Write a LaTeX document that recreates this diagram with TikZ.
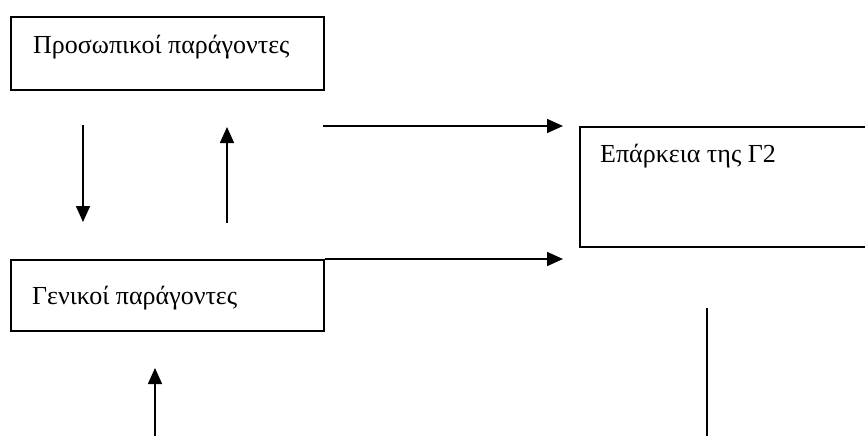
\documentclass[tikz,border=0pt]{standalone}
\usepackage{fontspec}
\setmainfont{Liberation Serif}
\usetikzlibrary{arrows.meta}
\begin{document}
\begin{tikzpicture}[x=1pt,y=-1pt,
  box/.style={draw,line width=1.6pt,rectangle,inner sep=0pt,anchor=north west},
  lbl/.style={anchor=base west,inner sep=0pt,font=\fontsize{26}{31}\selectfont},
  arr/.style={line width=1.6pt,-{Triangle[length=16pt,width=14pt]}},
  plain/.style={line width=1.6pt}]
\useasboundingbox (0,0) rectangle (865,436);
\begin{scope}
\clip (0,0) rectangle (865,436);
% boxes; the right one runs past the page edge
\node[box,minimum width=313pt,minimum height=73pt] (pers) at (10,16) {};
\node[box,minimum width=313pt,minimum height=71pt] (gen) at (10,259) {};
\node[box,minimum width=400pt,minimum height=120pt] (adeq) at (579,126) {};
% labels
\node[lbl] (perst) at (33,54) {Προσωπικοί παράγοντες};
\node[lbl] (gent) at (32,304) {Γενικοί παράγοντες};
\node[lbl] (adeqt) at (600,162) {Επάρκεια της Γ2};
% free ends of the connectors
\coordinate (d1) at (83,125);  \coordinate (d2) at (83,222);
\coordinate (u1) at (227,223); \coordinate (u2) at (227,127);
\coordinate (h1) at (323,126); \coordinate (h2) at (563,126);
\coordinate (h3) at (563,259);
\coordinate (b1) at (155,440); \coordinate (b2) at (155,368);
\coordinate (v1) at (707,308); \coordinate (v2) at (707,440);
% connectors
\draw[arr] (d1) -- (d2);
\draw[arr] (u1) -- (u2);
\draw[arr] (h1) -- (h2);
\draw[arr] (gen.north east) -- (h3);
\draw[arr] (b1) -- (b2);
\draw[plain] (v1) -- (v2);
\end{scope}
\end{tikzpicture}
\end{document}
